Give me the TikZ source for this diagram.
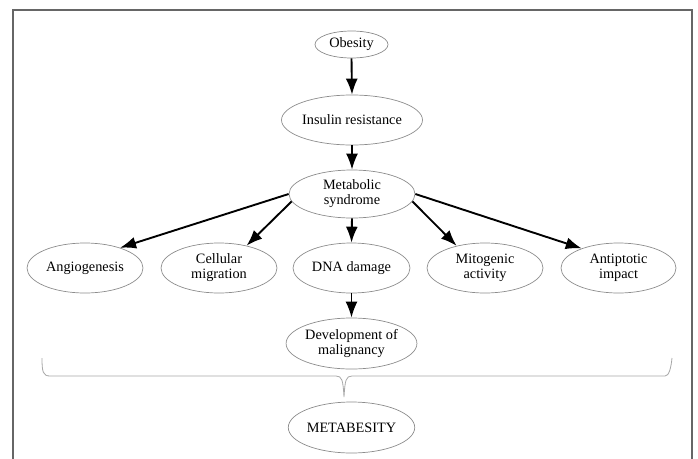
\documentclass[tikz,border=0pt]{standalone}
\usepackage{fontspec}
\setmainfont{Liberation Serif}
\usetikzlibrary{arrows.meta,shapes.geometric}
\begin{document}
\begin{tikzpicture}[x=1pt,y=-1pt,
  bub/.style={ellipse,draw=black!45,line width=0.7pt,inner sep=0pt,align=center,
    font=\fontsize{14.3}{15}\selectfont,text=black},
  arr/.style={line width=1.9pt,-{Latex[length=16pt,width=12pt]}},
  frame/.style={draw=black!60,line width=1.1pt},
  brace/.style={draw=black!35,line width=0.8pt}]
\useasboundingbox (0,0) rectangle (698,458);
\draw[frame] (13,460) -- (13,10) -- (692,10) -- (692,460);
\node[bub,minimum width=73pt,minimum height=27pt] (ob) at (351.5,44.5) {Obesity};
\node[bub,minimum width=128pt,minimum height=50pt] (ins) at (352,120) {Insulin resistance};
\node[bub,minimum width=126pt,minimum height=48pt] (met) at (352,194) {Metabolic\\syndrome};
\node[bub,minimum width=116pt,minimum height=50pt] (ang) at (85,268) {Angiogenesis};
\node[bub,minimum width=116pt,minimum height=50pt] (cel) at (219,268) {Cellular\\migration};
\node[bub,minimum width=117pt,minimum height=50pt] (dna) at (351.5,268) {DNA damage};
\node[bub,minimum width=116pt,minimum height=50pt] (mit) at (485,268) {Mitogenic\\activity};
\node[bub,minimum width=115pt,minimum height=50pt] (ant) at (618.5,268) {Antiptotic\\impact};
\node[bub,minimum width=117pt,minimum height=51pt] (dev) at (351.5,343.5) {Development of\\malignancy};
\node[bub,minimum width=117pt,minimum height=51pt] (meta) at (351.5,427.5) {METABESITY};
\draw[arr] (ob.south) -- (ins.north);
\draw[arr] (ins.south) -- (met.north);
\draw[arr] (met.180) -- (ang.30);
\draw[arr] (met.187) -- (cel.39);
\draw[arr] (met.south) -- (dna.north);
\draw[arr] (met.353) -- (mit.142);
\draw[arr] (met.0) -- (ant.152);
\draw[arr] (dna.south) -- (dev.north);
\coordinate (bl) at (42,358);
\coordinate (br) at (672,358);
\coordinate (bt) at (344,397);
\draw[brace] (bl) .. controls (42,372) and (43,376) .. (50,376) -- (336,376)
  .. controls (342,376) and (343,380) .. (bt)
  .. controls (345,380) and (346,376) .. (352,376) -- (665,376)
  .. controls (669,376) and (671,368) .. (br);
\end{tikzpicture}
\end{document}
